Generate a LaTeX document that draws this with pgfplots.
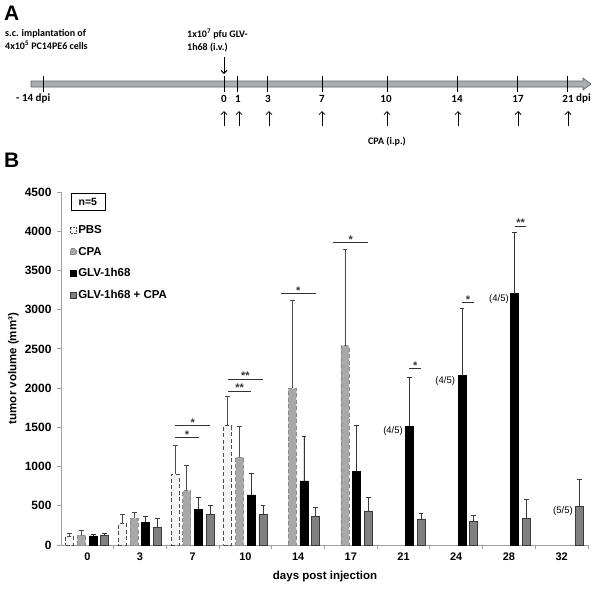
\documentclass[border=0pt]{standalone}
\usepackage{fontspec}
\setmainfont{Liberation Sans}
\newfontfamily\calib{Carlito}
\usepackage{pgfplots}
\pgfplotsset{compat=1.18}
\usetikzlibrary{arrows.meta}
\definecolor{pbsfill}{HTML}{F4F4F4}
\definecolor{pbsdraw}{HTML}{4D4D4D}
\definecolor{cpafill}{HTML}{A8A8A8}
\definecolor{cpadraw}{HTML}{8A8A8A}
\definecolor{combofill}{HTML}{808080}
\definecolor{combodraw}{HTML}{3A3A3A}
\definecolor{axisgray}{HTML}{A0A0A0}
\definecolor{tlfill}{HTML}{A9AEB4}
\definecolor{tldraw}{HTML}{5F6368}
\definecolor{sigline}{HTML}{333333}
\pgfplotsset{
  sqlegend/.style={legend image code/.code={\draw[##1, line width=0.6pt, dash pattern=on 2pt off 1pt] (0pt,-3pt) rectangle (6pt,3pt);}},
  sqlegendsolid/.style={legend image code/.code={\draw[##1, line width=0.6pt] (0pt,-3pt) rectangle (6pt,3pt);}},
  myerr/.style={error bars/.cd, y dir=plus, y explicit, error mark=-,
    error bar style={solid, draw=#1, line width=0.9pt},
    error mark options={rotate=90, solid, draw=#1, mark size=2.4pt, line width=0.9pt}},
}
\begin{document}
\begin{tikzpicture}[x=1pt,y=1pt]
\useasboundingbox (0pt,0pt) rectangle (600pt,-590pt);
% ---------------- Part A ----------------
\node[anchor=north west, inner sep=0, font=\bfseries\fontsize{21}{21}\selectfont] at (4pt,-6pt) {A};
\node[anchor=north west, inner sep=0, align=left, font=\calib\bfseries\fontsize{10}{13}\selectfont] at (5pt,-29pt) {s.c. implantation of\\4x10\textsuperscript{5} PC14PE6 cells};
\node[anchor=north west, inner sep=0, align=left, font=\calib\bfseries\fontsize{10}{13}\selectfont] at (187pt,-29pt) {1x10\textsuperscript{7} pfu GLV-\\1h68 (i.v.)};
\draw[line width=0.9pt, -{Straight Barb[length=3pt,width=6pt]}] (224pt,-57pt) -- (224pt,-74pt);
\filldraw[fill=tlfill, draw=tldraw, line width=0.6pt] (31pt,-81pt) -- (583pt,-81pt) -- (583pt,-78pt) -- (591pt,-84pt) -- (583pt,-90pt) -- (583pt,-87pt) -- (31pt,-87pt) -- cycle;
\foreach \x in {43,224,237,267,322,387,457,517,567} \draw[line width=0.9pt] (\x pt,-76pt) -- (\x pt,-92pt);
\begin{scope}[every node/.style={font=\calib\bfseries\fontsize{11}{13}\selectfont, inner sep=0}]
\node[anchor=west] at (16pt,-99pt) {- 14 dpi};
\node at (224pt,-99pt) {0};
\node at (238pt,-99pt) {1};
\node at (268pt,-99pt) {3};
\node at (322pt,-99pt) {7};
\node at (386pt,-99pt) {10};
\node at (457pt,-99pt) {14};
\node at (518pt,-99pt) {17};
\node at (568pt,-99pt) {21};
\node[anchor=west] at (576pt,-99pt) {dpi};
\end{scope}
\foreach \x in {224,239,269,322,387,458,518,568} \draw[line width=0.8pt, -{Straight Barb[length=3pt,width=6pt]}] (\x pt,-126pt) -- (\x pt,-111pt);
\node[inner sep=0, font=\calib\bfseries\fontsize{10}{11}\selectfont] at (387pt,-142pt) {CPA (i.p.)};
% ---------------- Part B ----------------
\node[anchor=north west, inner sep=0, font=\bfseries\fontsize{21}{21}\selectfont] at (4pt,-153pt) {B};
\begin{axis}[
  at={(61pt,-545pt)}, anchor=south west,
  width=527pt, height=353pt, scale only axis,
  xmin=-0.5, xmax=9.5, ymin=0, ymax=4500,
  axis lines*=left,
  axis line style={axisgray, line width=0.8pt},
  tick align=outside,
  major tick length=4pt, minor tick length=4pt,
  ytick={0,500,...,4500},
  ytick style={axisgray, line width=0.8pt},
  xtick={0,...,9},
  xticklabels={0,3,7,10,14,17,21,24,28,32},
  major x tick style={draw=none},
  minor xtick={0.5,1.5,...,9.5},
  minor x tick style={axisgray, line width=0.8pt},
  yticklabel style={font=\bfseries\fontsize{12}{13}\selectfont, xshift=-2pt},
  xticklabel style={font=\bfseries\fontsize{11}{13}\selectfont},
  /pgf/number format/assume math mode=true,
  /pgf/number format/1000 sep={},
  ylabel={tumor volume (mm³)},
  xlabel={days post injection},
  label style={font=\bfseries\fontsize{11.5}{13}\selectfont},
  ylabel style={at={(axis description cs:-0.0905,0.5)}, anchor=center},
  xlabel style={at={(axis description cs:0.501,-0.0905)}, anchor=center},
  legend style={at={(rel axis cs:0.017,0.91)}, anchor=north west, draw=none, fill=none, inner sep=0pt, row sep=9pt, font=\bfseries\fontsize{11.5}{13}\selectfont, nodes={inner sep=1.5pt}},
  legend cell align=left,
  clip=false,
  bar width=0.152,
]
\addplot[ybar, bar shift=0pt, sqlegend, fill=pbsfill, draw=pbsdraw, line width=0.9pt, dash pattern=on 4pt off 2.5pt, myerr=pbsdraw]
  coordinates {(-0.333,115) +- (0,35) (0.667,276) +- (0,111) (1.667,901) +- (0,368) (2.667,1522) +- (0,375)};
\addlegendentry{PBS}
\addplot[ybar, bar shift=0pt, sqlegendsolid, fill=cpafill, draw=cpadraw, line width=0.9pt, dash pattern=on 4pt off 2.5pt, myerr=pbsdraw]
  coordinates {(-0.111,128) +- (0,63) (0.889,340) +- (0,81) (1.889,690) +- (0,330) (2.889,1118) +- (0,391) (3.889,1998) +- (0,1118) (4.889,2543) +- (0,1229)};
\addlegendentry{CPA}
\addplot[ybar, bar shift=0pt, sqlegendsolid, fill=black, draw=black, line width=0.9pt, myerr=black!80]
  coordinates {(0.111,115) +- (0,21) (1.111,293) +- (0,73) (2.111,455) +- (0,150) (3.111,638) +- (0,270) (4.111,816) +- (0,574) (5.111,940) +- (0,582) (6.111,1514) +- (0,620) (7.111,2160) +- (0,854) (8.111,3201) +- (0,783)};
\addlegendentry{GLV-1h68}
\addplot[ybar, bar shift=0pt, sqlegendsolid, fill=combofill, draw=combodraw, line width=0.9pt, myerr=combodraw]
  coordinates {(0.333,119) +- (0,34) (1.333,225) +- (0,115) (2.333,391) +- (0,109) (3.333,395) +- (0,110) (4.333,366) +- (0,110) (5.333,434) +- (0,170) (6.333,327) +- (0,81) (7.333,302) +- (0,81) (8.333,340) +- (0,247) (9.333,493) +- (0,340)};
\addlegendentry{GLV-1h68 + CPA}
% n=5 box
\node[draw=black, line width=0.7pt, font=\bfseries\fontsize{10.5}{12}\selectfont, inner sep=0pt, minimum width=34pt, minimum height=17pt] at (rel axis cs:0.051,0.972) {n=5};
% significance
\begin{scope}[every node/.style={font=\bfseries\fontsize{11}{12}\selectfont, inner sep=0pt, anchor=south, yshift=-1pt}]
\draw[sigline, line width=1pt] (axis cs:1.667,1370) -- (axis cs:2.111,1370) node[midway] {*};
\draw[sigline, line width=1pt] (axis cs:1.667,1522) -- (axis cs:2.333,1522) node[midway] {*};
\draw[sigline, line width=1pt] (axis cs:2.667,1960) -- (axis cs:3.111,1960) node[midway] {**};
\draw[sigline, line width=1pt] (axis cs:2.667,2113) -- (axis cs:3.333,2113) node[midway] {**};
\draw[sigline, line width=1pt] (axis cs:3.667,3202) -- (axis cs:4.333,3202) node[midway] {*};
\draw[sigline, line width=1pt] (axis cs:4.667,3856) -- (axis cs:5.333,3856) node[midway] {*};
\draw[sigline, line width=1pt] (axis cs:6.111,2249) -- (axis cs:6.333,2249) node[midway] {*};
\draw[sigline, line width=1pt] (axis cs:7.111,3087) -- (axis cs:7.333,3087) node[midway] {*};
\draw[sigline, line width=1pt] (axis cs:8.111,4065) -- (axis cs:8.333,4065) node[midway] {**};
\end{scope}
% survival counts
\begin{scope}[every node/.style={font=\fontsize{9.5}{11}\selectfont, inner sep=0pt, anchor=east}]
\node at (axis cs:5.99,1455) {(4/5)};
\node at (axis cs:6.98,2092) {(4/5)};
\node at (axis cs:8.0,3138) {(4/5)};
\node at (axis cs:9.215,434) {(5/5)};
\end{scope}
\end{axis}
\end{tikzpicture}
\end{document}
